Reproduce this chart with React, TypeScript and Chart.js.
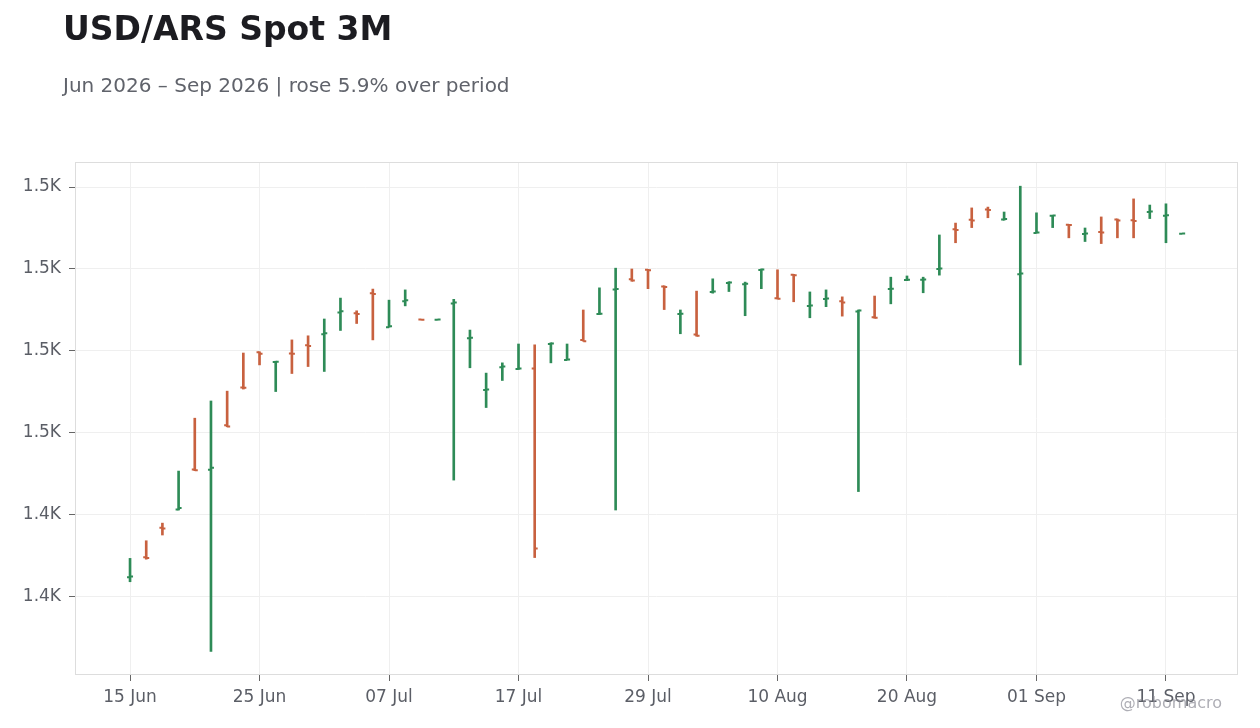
import React, { useEffect, useRef } from 'react';
import { Chart, registerables, Plugin } from 'chart.js';

Chart.register(...registerables);

// business days, 15 Jun – 14 Sep 2026
const dateLabels = [
  '15 Jun', '16 Jun', '17 Jun', '18 Jun', '19 Jun', '22 Jun', '23 Jun', '24 Jun', '25 Jun', '26 Jun',
  '29 Jun', '30 Jun', '01 Jul', '02 Jul', '03 Jul', '06 Jul', '07 Jul', '08 Jul', '09 Jul', '10 Jul',
  '13 Jul', '14 Jul', '15 Jul', '16 Jul', '17 Jul', '20 Jul', '21 Jul', '22 Jul', '23 Jul', '24 Jul',
  '27 Jul', '28 Jul', '29 Jul', '30 Jul', '31 Jul', '03 Aug', '04 Aug', '05 Aug', '06 Aug', '07 Aug',
  '10 Aug', '11 Aug', '12 Aug', '13 Aug', '14 Aug', '17 Aug', '18 Aug', '19 Aug', '20 Aug', '21 Aug',
  '24 Aug', '25 Aug', '26 Aug', '27 Aug', '28 Aug', '31 Aug', '01 Sep', '02 Sep', '03 Sep', '04 Sep',
  '07 Sep', '08 Sep', '09 Sep', '10 Sep', '11 Sep', '14 Sep',
];

const opens = [
  1424.8, 1429.7, 1436.9, 1441.3, 1451.1, 1451.05, 1461.9, 1471.1, 1479.7, 1477.3,
  1479.4, 1481.4, 1484.1, 1489.4, 1489.2, 1494.1, 1485.8, 1492.1, 1487.7, 1487.6,
  1491.6, 1483.1, 1470.5, 1476.0, 1475.6, 1475.7, 1481.7, 1477.8, 1482.7, 1489.0,
  1495.0, 1497.5, 1499.8, 1495.7, 1489.0, 1484.0, 1494.4, 1496.6, 1496.3, 1499.75,
  1492.85, 1498.6, 1491.0, 1492.7, 1492.1, 1489.6, 1488.2, 1495.1, 1497.3, 1497.35,
  1500.0, 1509.7, 1512.0, 1514.5, 1512.1, 1498.7, 1508.8, 1513.0, 1510.8, 1508.55,
  1509.0, 1512.1, 1511.9, 1513.9, 1513.0, 1508.6,
];
const highs = [
  1429.4, 1433.7, 1438.0, 1450.7, 1463.6, 1467.8, 1470.2, 1479.5, 1479.8, 1477.5,
  1482.7, 1483.7, 1487.8, 1492.9, 1489.8, 1495.1, 1492.4, 1494.9, 1487.7, 1487.7,
  1492.6, 1485.1, 1474.6, 1477.1, 1481.7, 1481.5, 1482.0, 1481.7, 1490.0, 1495.4,
  1500.2, 1500.0, 1499.9, 1495.9, 1490.0, 1494.6, 1497.6, 1496.9, 1496.8, 1500.0,
  1499.8, 1498.7, 1494.4, 1494.9, 1493.2, 1490.0, 1493.4, 1498.0, 1498.3, 1498.0,
  1508.3, 1511.2, 1514.9, 1515.1, 1513.9, 1520.2, 1513.7, 1513.1, 1510.9, 1510.0,
  1512.7, 1512.2, 1517.1, 1515.6, 1515.9, 1508.65,
];
const lows = [
  1423.7, 1429.2, 1435.1, 1441.2, 1450.8, 1406.7, 1461.5, 1470.7, 1476.6, 1470.1,
  1474.5, 1476.2, 1475.0, 1485.0, 1486.7, 1482.7, 1485.8, 1491.0, 1487.6, 1487.6,
  1448.5, 1475.9, 1466.2, 1472.8, 1475.5, 1429.6, 1477.1, 1477.8, 1482.4, 1488.9,
  1441.2, 1497.0, 1495.2, 1490.1, 1484.2, 1483.6, 1494.1, 1494.5, 1488.6, 1495.2,
  1492.7, 1492.0, 1488.1, 1490.8, 1488.5, 1445.7, 1488.0, 1491.5, 1497.15, 1494.2,
  1498.5, 1506.4, 1510.1, 1512.5, 1511.9, 1476.6, 1508.8, 1510.1, 1507.6, 1506.7,
  1506.2, 1507.6, 1507.6, 1512.3, 1506.4, 1508.6,
];
const closes = [
  1425.0, 1429.5, 1436.7, 1441.7, 1450.9, 1451.5, 1461.6, 1471.0, 1479.3, 1477.4,
  1479.3, 1481.2, 1484.3, 1489.7, 1489.0, 1493.9, 1486.0, 1492.4, 1487.6, 1487.7,
  1491.8, 1483.2, 1470.6, 1476.2, 1475.7, 1431.8, 1481.8, 1477.9, 1482.4, 1489.1,
  1495.1, 1497.2, 1499.7, 1495.6, 1489.1, 1483.7, 1494.5, 1496.7, 1496.4, 1499.85,
  1492.75, 1498.5, 1491.1, 1492.8, 1491.8, 1489.9, 1488.1, 1495.2, 1497.4, 1497.45,
  1500.1, 1509.5, 1511.8, 1514.4, 1512.2, 1498.9, 1508.9, 1513.05, 1510.75, 1508.65,
  1508.9, 1511.8, 1511.7, 1514.0, 1513.1, 1508.65,
];

const xTickIndex = [0, 8, 16, 24, 32, 40, 48, 56, 64];
const yTickValues = [1420, 1440, 1460, 1480, 1500, 1520];

const UP = '#2e8b57';
const DOWN = '#c8613f';
const FONT = "'DejaVu Sans', Verdana, sans-serif";

const barColors = closes.map((c, i) => (c >= opens[i] ? UP : DOWN));

// open tick on the left, close tick on the right
const ohlcTicks: Plugin<'bar'> = {
  id: 'ohlcTicks',
  afterDatasetsDraw(chart) {
    const { ctx } = chart;
    const x = chart.scales.x;
    const y = chart.scales.y;
    ctx.save();
    ctx.lineWidth = 2;
    opens.forEach((o, i) => {
      const px = x.getPixelForValue(i);
      const yo = y.getPixelForValue(o);
      const yc = y.getPixelForValue(closes[i]);
      ctx.strokeStyle = barColors[i];
      ctx.beginPath();
      ctx.moveTo(px - 3, yo);
      ctx.lineTo(px, yo);
      ctx.moveTo(px, yc);
      ctx.lineTo(px + 3, yc);
      ctx.stroke();
    });
    ctx.restore();
  },
};

const frame: Plugin<'bar'> = {
  id: 'frame',
  beforeDatasetsDraw(chart) {
    const { ctx, chartArea: a } = chart;
    ctx.save();
    ctx.strokeStyle = '#dddddd';
    ctx.lineWidth = 1;
    ctx.strokeRect(a.left + 0.5, a.top + 0.5, a.right - a.left - 1, a.bottom - a.top - 1);
    ctx.restore();
  },
};

const OhlcChart: React.FC = () => {
  const canvasRef = useRef<HTMLCanvasElement>(null);
  const chartInstance = useRef<Chart | null>(null);

  useEffect(() => {
    if (!canvasRef.current) return;
    if (chartInstance.current) chartInstance.current.destroy();

    chartInstance.current = new Chart(canvasRef.current, {
      type: 'bar',
      data: {
        datasets: [{
          label: 'USD/ARS',
          data: highs.map((h, i) => ({ x: i, y: [lows[i], h] })) as any,
          backgroundColor: barColors,
          borderWidth: 0,
          barThickness: 2,
        }],
      },
      options: {
        responsive: false,
        animation: false,
        layout: { padding: { top: 162, right: 22, left: 0, bottom: 0 } },
        scales: {
          x: {
            type: 'linear',
            min: -3.4,
            max: 68.45,
            offset: false,
            afterBuildTicks: (scale) => { scale.ticks = xTickIndex.map(v => ({ value: v })); },
            afterFit: (scale) => { scale.height = 53; },
            ticks: {
              color: '#5b5e66',
              font: { family: FONT, size: 17 },
              padding: 6,
              maxRotation: 0,
              autoSkip: false,
              callback: (v) => dateLabels[Number(v)] ?? '',
            },
            grid: { color: '#efefef', tickColor: '#666666', tickLength: 6, offset: false },
            border: { display: false },
          },
          y: {
            type: 'linear',
            min: 1400.95,
            max: 1526.1,
            afterBuildTicks: (scale) => { scale.ticks = yTickValues.map(v => ({ value: v })); },
            afterFit: (scale) => { scale.width = 75; },
            ticks: {
              color: '#5b5e66',
              font: { family: FONT, size: 17 },
              padding: 8,
              callback: (v) => (Math.round(Number(v) / 100) / 10).toFixed(1) + 'K',
            },
            grid: { color: '#efefef', tickColor: '#666666', tickLength: 6 },
            border: { display: false },
          },
        },
        plugins: {
          legend: { display: false },
          title: { display: false },
          tooltip: { enabled: false },
        },
      },
      plugins: [frame, ohlcTicks],
    });

    return () => {
      if (chartInstance.current) {
        chartInstance.current.destroy();
        chartInstance.current = null;
      }
    };
  }, []);

  return <canvas ref={canvasRef} width={1260} height={728} style={{ position: 'absolute', left: 0, top: 0 }} />;
};

export default function App() {
  return (
    <div style={{ position: 'fixed', left: 0, top: 0, width: 1260, height: 728, background: '#ffffff', overflow: 'hidden', fontFamily: FONT }}>
      <OhlcChart />
      <div style={{ position: 'absolute', left: 63, top: 12, fontSize: 33, lineHeight: '33px', fontWeight: 700, color: '#1c1c21' }}>
        USD/ARS Spot 3M
      </div>
      <div style={{ position: 'absolute', left: 63, top: 75, fontSize: 20, lineHeight: '20px', color: '#60636b' }}>
        Jun 2026 – Sep 2026 | rose 5.9% over period
      </div>
      <div style={{ position: 'absolute', right: 38, top: 695, fontSize: 16, lineHeight: '16px', color: 'rgba(140,140,150,0.7)', pointerEvents: 'none' }}>
        @robomacro
      </div>
    </div>
  );
}
